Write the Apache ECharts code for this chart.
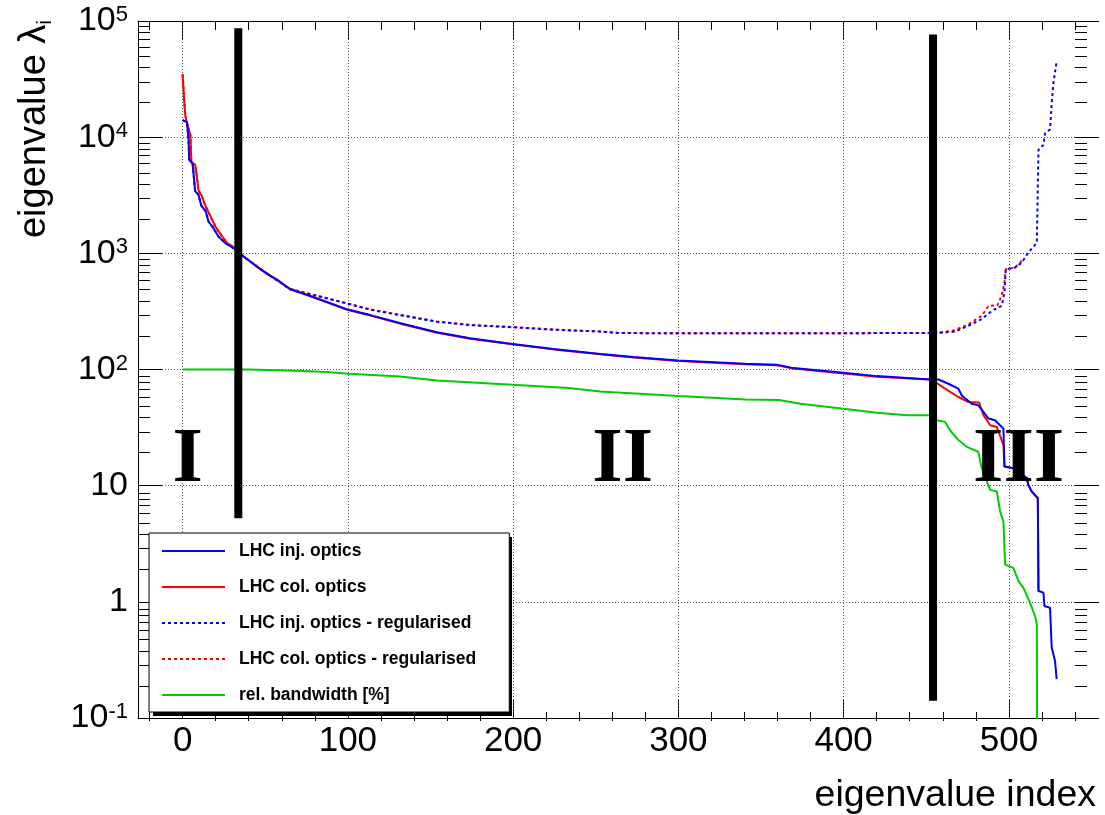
<!DOCTYPE html>
<html><head><meta charset="utf-8">
<script src="https://cdn.jsdelivr.net/npm/echarts@6/dist/echarts.min.js"></script>
<style>html,body{margin:0;padding:0;background:#fff}#c{width:1105px;height:815px}</style>
</head><body><div id="c"></div>
<script>
// ---- data ----
const seriesNames = ['LHC inj. optics', 'LHC col. optics', 'LHC inj. optics - regularised', 'LHC col. optics - regularised', 'rel. bandwidth [%]'];

const injOptics = [[0,14000],[2.6,13500],[3.5,10000],[4,6400],[6,6000],[7.6,3420],[9.6,3200],[11.3,2580],[14,2300],[15.6,1890],[18.6,1650],[21.6,1400],[25.8,1225],[30.8,1110],[35.9,960],[39,890],[47,730],[53,639],[57,598],[65,491],[77,431],[100,328],[113.6,294],[133.7,246],[153.9,209],[174,186],[199.6,166],[224.4,150],[252.8,136],[272.8,128],[300,119.4],[340.4,111.9],[359.6,109.7],[369.6,102.8],[399.9,93.7],[420.1,87.7],[452.3,82.1],[457.4,82],[463.4,75.4],[469.4,68.4],[471.5,59.8],[477.5,50.8],[481.5,49.2],[484.6,43.2],[487.6,37.8],[491.6,36.6],[496.7,31],[497.3,14.6],[502.7,14.1],[510.8,11.6],[511.8,10.1],[513.8,8.9],[517.5,7.8],[517.9,1.24],[520.9,1.2],[521.5,0.92],[524.9,0.89],[525.9,0.405],[527.9,0.311],[528.9,0.216]];

const colOptics = [[0,34800],[0.8,22300],[1.6,15400],[3.2,12300],[4.7,10500],[5.3,6020],[7.6,5790],[8.6,4600],[9.6,3500],[11.7,3100],[13.7,2580],[17.8,1950],[19.8,1700],[22.8,1470],[26.9,1225],[29.9,1155],[33,1040],[39,895],[47,735],[53,642],[65,495],[77,428],[100,325],[113.6,292],[133.7,244],[153.9,207],[174,184],[199.6,165],[224.4,149],[252.8,135],[272.8,127],[300,118.5],[340.4,111],[359.6,109],[369.6,102],[399.9,92.5],[420.1,86.5],[452.3,82],[455.3,78],[461.4,68.4],[469.4,58],[475.5,52.5],[482,52],[484.6,40.4],[488.7,33.1],[492.7,32],[496.7,22.3],[497.3,14.6],[502.7,14.1],[510.8,11.6],[511.8,10.1],[513.8,8.9],[517.5,7.8],[517.9,1.24],[519,1.24]];

const injRegularised = [[0,14000],[2.6,13500],[3.5,10000],[4,6400],[6,6000],[7.6,3420],[9.6,3200],[11.3,2580],[14,2300],[15.6,1890],[18.6,1650],[21.6,1400],[25.8,1225],[30.8,1110],[35.9,960],[39,890],[47,735],[53,639],[65,491],[77,445],[89.4,403],[100,368],[113.6,327],[133.7,290],[153.9,258],[174,241],[199.6,231],[224.4,220],[252.8,212],[264.8,206],[300,205],[400,205],[424.6,206],[456.4,206],[467.4,212],[475.5,238],[483.6,272],[489.7,320],[495.7,354],[497.3,460],[498.1,729],[503.7,754],[507.8,832],[511.8,1014],[516.9,1236],[517.9,7780],[520.9,8590],[521.9,10800],[524.9,11700],[525.9,19500],[526.9,29000],[529,45900]];

const colRegularised = [[0,34800],[0.8,22300],[1.6,15400],[3.2,12300],[4.7,10500],[5.3,6020],[7.6,5790],[8.6,4600],[9.6,3500],[11.7,3100],[13.7,2580],[17.8,1950],[19.8,1700],[22.8,1470],[26.9,1225],[29.9,1155],[33,1040],[39,895],[47,738],[53,642],[65,493],[77,447],[89.4,405],[100,370],[113.6,329],[133.7,292],[153.9,259],[174,242],[199.6,232],[224.4,221],[252.8,212],[264.8,206],[300,205],[400,205],[424.6,206],[456.4,206],[467.4,218],[475.5,245],[483.6,290],[487.7,354],[493,356],[495.6,431],[497.3,561],[498.1,729],[503.7,754],[508.8,890]];

const relBandwidth = [[0,100],[40,100],[57,98.5],[73,97],[87,95],[100.4,91.8],[131.7,87],[153.9,80.5],[199.6,74],[233.5,69.3],[252.8,64.8],[300,59.2],[340.7,55.3],[360.9,54.7],[373.7,50.8],[399.9,46],[420.1,42.5],[438.2,40.4],[452.3,40.4],[456.4,36.5],[461.4,35.4],[464.4,30],[469.4,24.7],[474.5,21.6],[481.5,19.6],[483.6,14.1],[488.7,9.2],[492.7,8.9],[494.7,6.0],[496.7,4.9],[497.7,2.09],[502.7,1.96],[505.8,1.51],[508.8,1.32],[512.8,0.98],[515.8,0.755],[516.9,0.64],[517.2,0.01]];

const boundaryI = [[33.7,5.25],[33.7,86500]];
const boundaryII = [[454.1,0.141],[454.1,76700]];

const regionLabels = ['I', 'II', 'III'];
const regionLabelX = [3.1, 266.3, 505.9];
const regionLabelY = 16.3;

const xMajorTicks = [0, 100, 200, 300, 400, 500];
const xMinorTicks = [-20, 20, 40, 60, 80, 120, 140, 160, 180, 220, 240, 260, 280, 320, 340, 360, 380, 420, 440, 460, 480, 520, 540];
const yDecades = [-1, 0, 1, 2, 3, 4];
const yMinorMantissas = [2, 3, 4, 5, 6, 7, 8, 9];

// ---- chart ----
const FONT = 'Liberation Sans';
const yMinorTicks = [];
yDecades.forEach(d => yMinorMantissas.forEach(m => yMinorTicks.push(d + Math.log10(m))));

const gridRect = { left: 138, top: 21, width: 937, height: 700 };
const tickStyle = { color: '#000', width: 1 };
const gridLineStyle = { color: '#555', width: 1, type: [1, 2] };

function yLabel(v) {
  const e = Math.round(Math.log10(v));
  if (e === 0) return '{b|1}';
  if (e === 1) return '{b|10}';
  return '{b|10}{s|' + e + '}';
}

const chart = echarts.init(document.getElementById('c'), null, { renderer: 'canvas' });

function lineSeries(name, data, color, dotted, extra) {
  return Object.assign({
    name: name, type: 'line', data: data, xAxisIndex: 0, yAxisIndex: 0,
    symbol: 'none', showSymbol: false, animation: false, silent: true,
    lineStyle: { color: color, width: 2, type: dotted ? [3, 3] : 'solid' },
    itemStyle: { color: color }
  }, extra || {});
}

const option = {
  animation: false,
  backgroundColor: '#fff',
  grid: [Object.assign({}, gridRect), Object.assign({}, gridRect)],
  xAxis: [
    { gridIndex: 0, type: 'value', position: 'bottom', min: -27, max: 540,
      axisLine: { show: true, onZero: false, lineStyle: tickStyle },
      axisTick: { show: true, inside: true, length: 18, customValues: xMajorTicks, lineStyle: tickStyle },
      axisLabel: { show: true, customValues: xMajorTicks, margin: 6, fontSize: 35, fontFamily: FONT, color: '#000' },
      splitLine: { show: false },
      name: 'eigenvalue index', nameLocation: 'end', nameGap: 21,
      nameTextStyle: { fontSize: 37.5, fontFamily: FONT, color: '#000', align: 'right', verticalAlign: 'top', padding: [59, 0, 0, 0] } },
    { gridIndex: 0, type: 'value', position: 'top', min: -27, max: 540,
      axisLine: { show: true, onZero: false, lineStyle: tickStyle },
      axisTick: { show: true, inside: true, length: 18, customValues: xMajorTicks, lineStyle: tickStyle },
      axisLabel: { show: false }, splitLine: { show: false } },
    { gridIndex: 1, type: 'value', position: 'bottom', min: -27, max: 540,
      axisLine: { show: false, onZero: false },
      axisTick: { show: true, inside: true, length: 9, customValues: xMinorTicks, lineStyle: tickStyle },
      axisLabel: { show: false }, splitLine: { show: false } },
    { gridIndex: 1, type: 'value', position: 'top', min: -27, max: 540,
      axisLine: { show: false, onZero: false },
      axisTick: { show: true, inside: true, length: 9, customValues: xMinorTicks, lineStyle: tickStyle },
      axisLabel: { show: false }, splitLine: { show: false } }
  ],
  yAxis: [
    { gridIndex: 0, type: 'log', logBase: 10, min: 0.1, max: 100000, splitNumber: 6, position: 'left',
      axisLine: { show: true, onZero: false, lineStyle: tickStyle },
      axisTick: { show: true, inside: true, length: 24, lineStyle: tickStyle },
      axisLabel: { show: true, margin: 10, formatter: yLabel,
        rich: { b: { fontSize: 34, fontFamily: FONT, color: '#000', lineHeight: 34 },
                s: { fontSize: 22, fontFamily: FONT, color: '#000', verticalAlign: 'top', lineHeight: 22 } } },
      splitLine: { show: true, lineStyle: gridLineStyle } },
    { gridIndex: 0, type: 'log', logBase: 10, min: 0.1, max: 100000, splitNumber: 6, position: 'right',
      axisLine: { show: false, onZero: false },
      axisTick: { show: true, inside: false, length: 24, lineStyle: tickStyle },
      axisLabel: { show: false }, splitLine: { show: false } },
    { gridIndex: 1, type: 'value', min: -1, max: 5, position: 'left',
      axisLine: { show: false, onZero: false },
      axisTick: { show: true, inside: true, length: 12, customValues: yMinorTicks, lineStyle: tickStyle },
      axisLabel: { show: false }, splitLine: { show: false } },
    { gridIndex: 1, type: 'value', min: -1, max: 5, position: 'right',
      axisLine: { show: false, onZero: false },
      axisTick: { show: true, inside: false, length: 12, customValues: yMinorTicks, lineStyle: tickStyle },
      axisLabel: { show: false }, splitLine: { show: false } }
  ],
  legend: {
    orient: 'vertical', left: 149, top: 533, z: 8,
    padding: [9, 33, 8, 12], itemWidth: 63, itemHeight: 14, itemGap: 18,
    backgroundColor: '#fff', borderColor: '#000', borderWidth: 1,
    itemStyle: { opacity: 0 },
    textStyle: { fontFamily: FONT, fontWeight: 'bold', fontSize: 17.5, color: '#000', padding: [0, 0, 0, 9] },
    selectedMode: false,
    data: seriesNames
  },
  graphic: [
    { type: 'text', x: 35, y: 20, rotation: Math.PI / 2, silent: true,
      style: { text: 'eigenvalue λ{sub|i}', fontSize: 38, fontFamily: FONT, fill: '#000',
        align: 'right', verticalAlign: 'middle',
        rich: { sub: { fontSize: 21, fontFamily: FONT, verticalAlign: 'bottom', lineHeight: 42 } } } },
    { type: 'rect', silent: true, z: 5, shape: { x: 153, y: 537, width: 359, height: 179 },
      style: { fill: '#000' } }
  ],
  series: [
    lineSeries(seriesNames[3], colRegularised, '#ff0000', true, {
      markLine: { silent: true, symbol: 'none', z: 1, label: { show: false },
        lineStyle: gridLineStyle, data: xMajorTicks.map(v => ({ xAxis: v })) } }),
    lineSeries(seriesNames[2], injRegularised, '#0000ff', true),
    lineSeries(seriesNames[1], colOptics, '#ff0000', false),
    lineSeries(seriesNames[0], injOptics, '#0000ff', false),
    lineSeries(seriesNames[4], relBandwidth, '#00cc00', false),
    { type: 'line', name: 'boundary I', data: boundaryI, symbol: 'none', silent: true, z: 3,
      lineStyle: { color: '#000', width: 8 } },
    { type: 'line', name: 'boundary II', data: boundaryII, symbol: 'none', silent: true, z: 3,
      lineStyle: { color: '#000', width: 8 } },
    { type: 'scatter', name: 'regions', silent: true, z: 3, symbolSize: 0,
      itemStyle: { color: '#000', opacity: 1 },
      data: regionLabelX.map((x, i) => ({ value: [x, regionLabelY], name: regionLabels[i] })),
      label: { show: true, position: 'inside', formatter: p => p.name, opacity: 1,
        textBorderWidth: 0, fontFamily: 'Liberation Serif', fontWeight: 'bold', fontSize: 78, color: '#000' } }
  ]
};
chart.setOption(option);
</script></body></html>
